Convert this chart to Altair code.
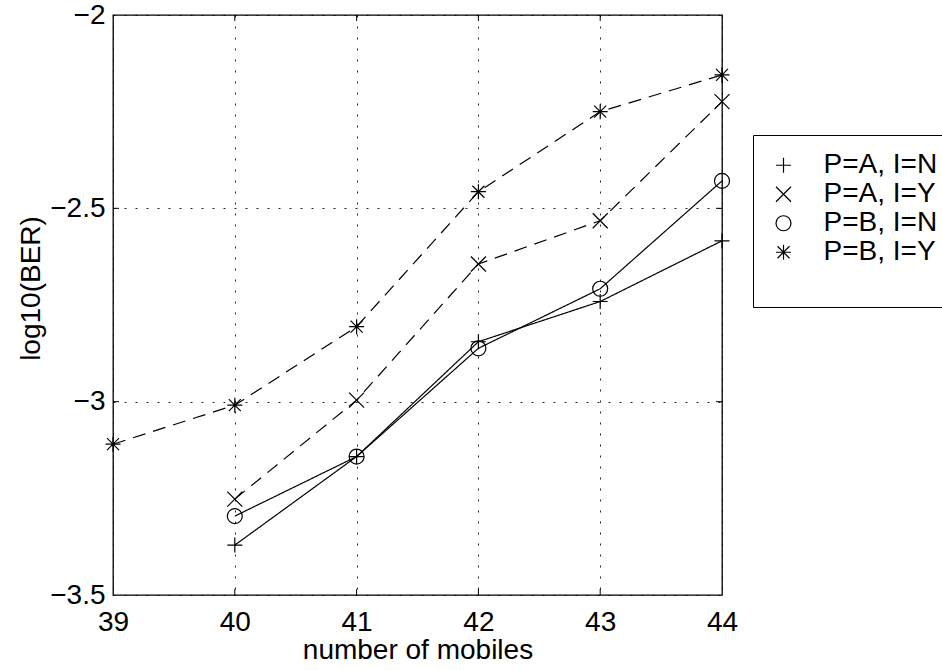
import altair as alt
import pandas as pd

# ---- data ----
mobiles = [39, 40, 41, 42, 43, 44]
series_names = ["P=A, I=N", "P=A, I=Y", "P=B, I=N", "P=B, I=Y"]
interference = ["N", "Y", "N", "Y"]
ber_pa_in = [None, -3.371, -3.142, -2.845, -2.741, -2.584]
ber_pa_iy = [None, -3.252, -2.996, -2.644, -2.532, -2.224]
ber_pb_in = [None, -3.296, -3.142, -2.862, -2.708, -2.429]
ber_pb_iy = [-3.110, -3.009, -2.806, -2.457, -2.250, -2.155]

x_ticks = [39, 40, 41, 42, 43, 44]
y_ticks = [-3.5, -3.0, -2.5, -2.0]
inner_x_ticks = [40, 41, 42, 43]
inner_y_ticks = [-3.0, -2.5]

# marker shapes (MATLAB style: +, x, o, *)
plus_path = "M-1,0L1,0M0,-1L0,1"
x_path = "M-1,-1L1,1M-1,1L1,-1"
star_path = "M-1,0L1,0M0,-1L0,1M-0.8,-0.8L0.8,0.8M-0.8,0.8L0.8,-0.8"
shape_range = [plus_path, x_path, "circle", star_path]

rows = []
for name, vals, intf in zip(series_names, [ber_pa_in, ber_pa_iy, ber_pb_in, ber_pb_iy], interference):
    for m, v in zip(mobiles, vals):
        if v is not None:
            rows.append({"mobiles": m, "ber": v, "series": name, "interf": intf})
df = pd.DataFrame(rows)
df_xt = pd.DataFrame({"mobiles": inner_x_ticks})
df_yt = pd.DataFrame({"ber": inner_y_ticks})

FONT = "Liberation Sans"

x_enc = alt.X(
    "mobiles:Q",
    scale=alt.Scale(domain=[39, 44], nice=False, zero=False),
    axis=alt.Axis(
        values=x_ticks, format="d", title="number of mobiles",
        labelPadding=35, labelBaseline="alphabetic",
        titleBaseline="alphabetic", titleY=63, titleX=304.5,
    ),
)
y_enc = alt.Y(
    "ber:Q",
    scale=alt.Scale(domain=[-3.5, -2.0], nice=False, zero=False),
    axis=alt.Axis(
        values=y_ticks, format="~g", title="log10(BER)",
        labelPadding=8, labelBaseline="middle",
        titleAngle=270, titleBaseline="alphabetic", titleAlign="center",
        titleX=-74, titleY=273,
    ),
)

lines = alt.Chart(df).mark_line(color="black", strokeWidth=1.2).encode(
    x=x_enc,
    y=y_enc,
    detail="series:N",
    strokeDash=alt.StrokeDash(
        "interf:N",
        scale=alt.Scale(domain=["N", "Y"], range=[[1, 0], [13, 8]]),
        legend=None,
    ),
)

points = alt.Chart(df).mark_point(
    filled=False, color="black", strokeWidth=1.2, size=225, opacity=1
).encode(
    x=x_enc,
    y=y_enc,
    shape=alt.Shape(
        "series:N",
        scale=alt.Scale(domain=series_names, range=shape_range),
        legend=alt.Legend(
            orient="none", legendX=640, legendY=120,
            title=" ", titleOrient="bottom", titleFontSize=20, titlePadding=4,
            padding=16, strokeColor="black", fillColor="white",
            labelFont=FONT, labelFontSize=28, labelColor="black",
            symbolSize=225, symbolStrokeWidth=1.2, symbolStrokeColor="black",
            labelOffset=26, symbolOffset=0.5, rowPadding=0, clipHeight=28.5,
        ),
    ),
)

tick_bottom = alt.Chart(df_xt).mark_rule(color="black", strokeWidth=1).encode(
    x=x_enc, y=alt.value(580), y2=alt.value(574)
)
tick_top = alt.Chart(df_xt).mark_rule(color="black", strokeWidth=1).encode(
    x=x_enc, y=alt.value(0), y2=alt.value(6)
)
tick_left = alt.Chart(df_yt).mark_rule(color="black", strokeWidth=1).encode(
    y=y_enc, x=alt.value(0), x2=alt.value(6)
)
tick_right = alt.Chart(df_yt).mark_rule(color="black", strokeWidth=1).encode(
    y=y_enc, x=alt.value(609), x2=alt.value(603)
)

chart = alt.layer(
    tick_bottom, tick_top, tick_left, tick_right, lines, points
).properties(
    width=609,
    height=580,
    padding={"left": 113, "top": 15, "right": 220, "bottom": 75},
    autosize=alt.AutoSizeParams(type="none"),
    background="white",
).configure_view(
    stroke="black", strokeWidth=1.3
).configure_axis(
    grid=True, gridColor="black", gridDash=[2, 9], gridWidth=1, gridOpacity=0.85,
    domain=False, ticks=False, tickSize=0,
    labelFont=FONT, labelFontSize=28, labelColor="black",
    titleFont=FONT, titleFontSize=28, titleFontWeight="normal", titleColor="black",
    labelFlush=False, labelOverlap=False,
)

chart.save("out.html", embed_options={"renderer": "svg", "actions": False})
